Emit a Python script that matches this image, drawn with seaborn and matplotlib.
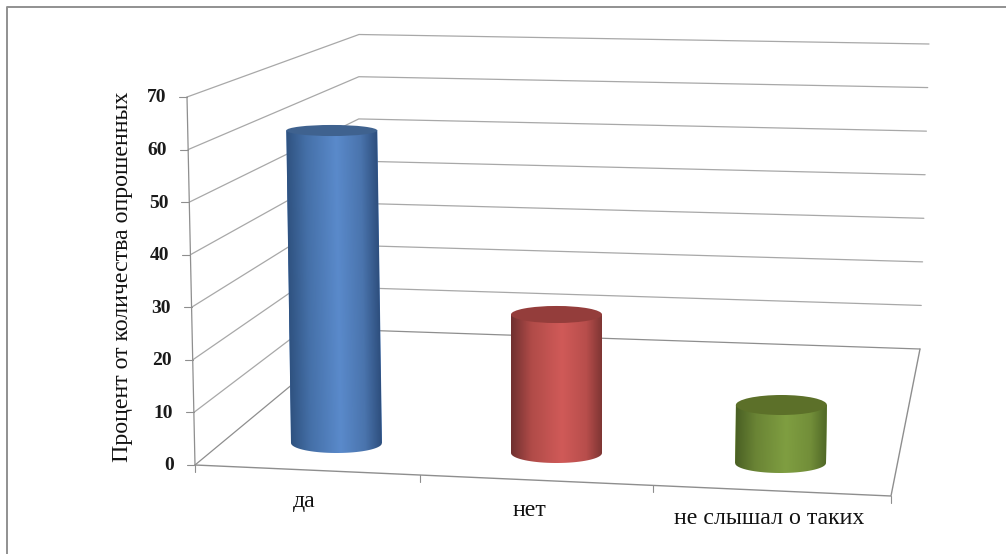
import numpy as np
import matplotlib
matplotlib.use("Agg")
import matplotlib.pyplot as plt
import seaborn as sns
from matplotlib.colors import LinearSegmentedColormap
from matplotlib.patches import Ellipse
from matplotlib.path import Path
from matplotlib.transforms import Affine2D

# Chart data
categories = ["да", "нет", "не слышал о таких"]
values = [62.5, 27.7, 11.6]
value_ticks = [0, 10, 20, 30, 40, 50, 60, 70]
y_title = "Процент от количества опрошенных"

# Colours of each cylinder
body_colors = ["#4a78b5", "#c0504d", "#76933c"]
cap_colors = ["#3f628f", "#943d3b", "#5c7029"]
shades = [
    ["#2f5280", "#4570a8", "#5a8acb", "#4a74ad", "#2e4f7e"],
    ["#703030", "#b04b48", "#d05a58", "#b84e4c", "#7c3432"],
    ["#4a6024", "#6a8435", "#7f9e41", "#728e39", "#4f6726"],
]
highlight = [0.0, 0.22, 0.55, 0.82, 1.0]

sns.set_theme(style="white")
plt.rcParams["font.family"] = ["Liberation Serif", "DejaVu Serif"]

fig = plt.figure(figsize=(10.06, 5.54), dpi=100, facecolor="white")

# Frame of the 3D box, in picture pixels
frame = fig.add_axes([0, 0, 1, 1], zorder=0)
frame.set_xlim(0, 1006)
frame.set_ylim(554, 0)
frame.axis("off")

front_left = ((195, 465), (187, 97))
back_left = ((358, 330), (359, 34.5))
back_right = ((920, 349), (929, 44))
front_right = (891, 496)
grid_color = "#a8a8a8"
edge_color = "#8e8e8e"


def on_edge(edge, v):
    low, high = edge
    t = v / value_ticks[-1]
    return low[0] + t * (high[0] - low[0]), low[1] + t * (high[1] - low[1])


for v in value_ticks:
    p0, p1, p2 = on_edge(front_left, v), on_edge(back_left, v), on_edge(back_right, v)
    color = edge_color if v == 0 else grid_color
    frame.plot([p0[0], p1[0], p2[0]], [p0[1], p1[1], p2[1]], color=color, lw=0.9)
    frame.plot([p0[0] - 8, p0[0]], [p0[1], p0[1]], color=edge_color, lw=0.8)
    frame.text(p0[0] - 21, p0[1] + 1, str(v), ha="right", va="center",
               fontsize=14, fontweight="bold", color="#1a1a1a")

frame.plot([front_left[0][0], front_left[1][0]], [front_left[0][1], front_left[1][1]],
           color=edge_color, lw=0.9)
bl, br = back_right[0], front_right
frame.plot([front_left[0][0], br[0], bl[0]], [front_left[0][1], br[1], bl[1]],
           color=edge_color, lw=1.0)
for tick_x in [195, 420, 653, 891]:
    tick_y = 465 + (tick_x - 195) * (496 - 465) / (891 - 195)
    frame.plot([tick_x, tick_x], [tick_y, tick_y + 7], color=edge_color, lw=0.8)

frame.text(123, 276.5, y_title, rotation=90, ha="center", va="center",
           fontsize=17.2, color="#111111")
label_pos = [(304.5, 507), (529.5, 516.5), (769, 524)]
for name, (lx, ly) in zip(categories, label_pos):
    frame.text(lx, ly, name, ha="center", va="baseline", fontsize=17.2, color="#111111")

# Picture border
frame.plot([7.5, 7.5, 1006], [554, 6.5, 6.5], color="#909090", lw=1.4)

# Bars live in their own axes, each one moved back onto the floor and leaning slightly
ax = fig.add_axes([0, 0, 1, 1], zorder=1)
ax.patch.set_alpha(0)
px_per_cat = 222
px_per_unit = 5
base_px = 443
floor_rise = 10 / px_per_unit
nudge_px = [0, -2, 0]

sns.barplot(x=categories, y=values, hue=categories, palette=body_colors,
            legend=False, width=91 / px_per_cat, saturation=1, ax=ax)


def cap_semi(i, v):
    # ellipses open up the further they sit below eye level
    py = base_px + 10 * i - px_per_unit * v
    return min(10, 5.5 + 0.01625 * (py - 128)) / px_per_unit


for i, bar in enumerate(ax.patches):
    x0, w, h = bar.get_x(), bar.get_width(), bar.get_height()
    xc = x0 + w / 2
    lean = 0.015 * (i - 1) * px_per_unit / px_per_cat
    skew = Affine2D().from_values(1, 0, lean, 1, nudge_px[i] / px_per_cat, -floor_rise * i) + ax.transData
    bar.set_transform(skew)
    bar.set_edgecolor("none")

    # body outline with the rounded bottom
    b0 = cap_semi(i, 0)
    t = np.linspace(0, np.pi, 40)
    low = np.column_stack([xc - w / 2 * np.cos(t), -b0 * np.sin(t)])
    verts = np.vstack([low, [[x0 + w, h], [x0, h], low[0]]])
    outline = Path(verts)

    cmap = LinearSegmentedColormap.from_list(f"cyl{i}", list(zip(highlight, shades[i])))
    im = ax.imshow(np.linspace(0, 1, 200)[None, :], cmap=cmap, aspect="auto",
                   extent=(x0, x0 + w, -b0, h), zorder=3 + i)
    im.set_transform(skew)
    im.set_clip_path(outline, skew)

    ax.add_patch(Ellipse((xc, h), w, 2 * cap_semi(i, h), facecolor=cap_colors[i],
                         edgecolor="none", transform=skew, zorder=4 + i))

ax.set_xlim(-336.5 / px_per_cat, (1006 - 336.5) / px_per_cat)
ax.set_ylim((base_px - 554) / px_per_unit, base_px / px_per_unit)
ax.axis("off")

fig.savefig("out.png", dpi=100)
